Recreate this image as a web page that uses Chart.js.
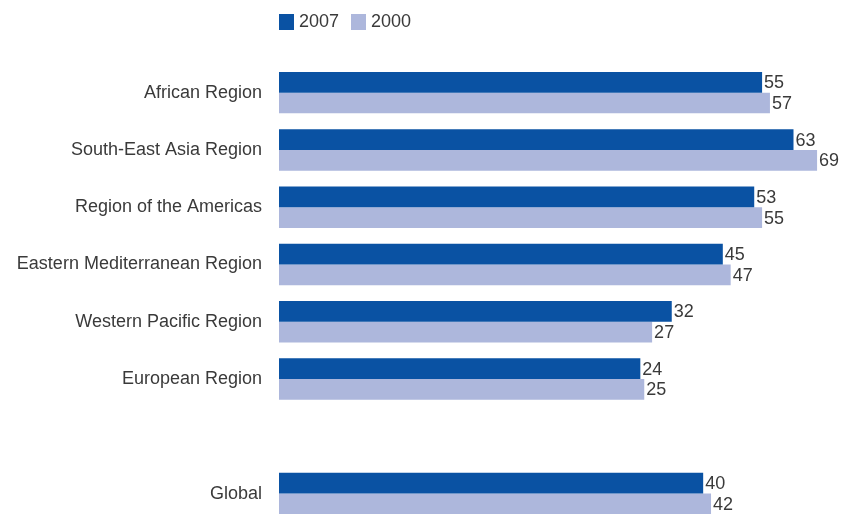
<!DOCTYPE html>
<html lang='en'>

<head>
    <meta charset='UTF-8'>
    <title>Document</title>
    <script src="https://cdn.jsdelivr.net/npm/chart.js"></script>
    <style>
        html, body { margin: 0; padding: 0; background: #fff; overflow: hidden; }
        #chart_sect { position: relative; width: 843px; height: 514px; overflow: hidden; }
        #myChart { display: block; }
        #legend { position: absolute; left: 279px; top: 11px; font: 18px 'Liberation Sans', Arial, sans-serif; color: #3a3a3a; }
        #legend span.item { margin-right: 12px; display: inline-flex; align-items: center; }
        #legend span.box { display: inline-block; width: 15px; height: 16px; margin-right: 5px; }
    </style>
</head>

<body>
    <div id="chart_sect">
        <div id="legend"></div>
        <canvas id="myChart" width="843" height="550"></canvas>
    </div>

    <script>
        // data
        const regions = ['African Region', 'South-East Asia Region', 'Region of the Americas',
            'Eastern Mediterranean Region', 'Western Pacific Region', 'European Region', '', 'Global'];
        const values_2007 = [55, 63, 53, 45, 32, 24, null, 40];
        const values_2000 = [57, 69, 55, 47, 27, 25, null, 42];
        const series_names = ['2007', '2000'];
        const series_colors = ['#0a52a3', '#adb7dc'];

        const txt_color = '#3a3a3a';
        const font_fam = "'Liberation Sans', Arial, sans-serif";

        // value labels at the end of each bar
        const value_labels = {
            id: 'value_labels',
            afterDatasetsDraw(chart) {
                const ctx = chart.ctx;
                ctx.save();
                ctx.font = '18px ' + font_fam;
                ctx.fillStyle = txt_color;
                ctx.textAlign = 'left';
                ctx.textBaseline = 'middle';
                chart.data.datasets.forEach((ds, i) => {
                    chart.getDatasetMeta(i).data.forEach((bar, j) => {
                        if (ds.data[j] == null) return;
                        ctx.fillText(ds.data[j], bar.x + 2, bar.y + 1);
                    });
                });
                ctx.restore();
            }
        };

        const gogo = document.getElementById('myChart');
        const my_chart = new Chart(gogo, {
            type: 'bar',
            data: {
                labels: regions,
                datasets: [{
                    label: series_names[0],
                    data: values_2007,
                    backgroundColor: series_colors[0],
                    base: -68
                }, {
                    label: series_names[1],
                    data: values_2000,
                    backgroundColor: series_colors[1],
                    base: -68
                }]
            },
            options: {
                indexAxis: 'y',
                responsive: false,
                animation: false,
                datasets: {
                    bar: { categoryPercentage: 0.724, barPercentage: 1.0 }
                },
                layout: { padding: { top: 64, right: 22, left: 0, bottom: 0 } },
                plugins: {
                    legend: { display: false },
                    tooltip: { enabled: false }
                },
                scales: {
                    x: {
                        display: false,
                        min: -68,
                        max: 70
                    },
                    y: {
                        grid: { display: false, drawTicks: false },
                        border: { display: false },
                        ticks: {
                            padding: 17,
                            color: txt_color,
                            font: { family: font_fam, size: 18 }
                        },
                        afterFit(scale) { scale.width = 279; }
                    }
                }
            },
            plugins: [value_labels]
        });

        // html legend built from the datasets
        const legend = document.getElementById('legend');
        my_chart.data.datasets.forEach((ds) => {
            let item = document.createElement('span');
            item.className = 'item';
            let box = document.createElement('span');
            box.className = 'box';
            box.style.background = ds.backgroundColor;
            item.appendChild(box);
            item.appendChild(document.createTextNode(ds.label));
            legend.appendChild(item);
        });
    </script>

</body>

</html>
